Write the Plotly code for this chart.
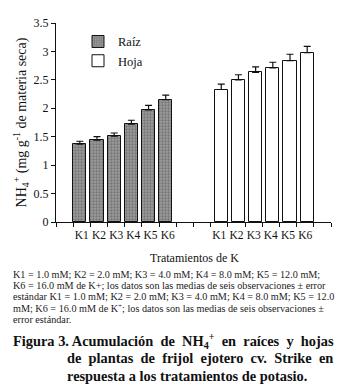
import plotly.graph_objects as go

# ---- data ----
tratamientos = ["K1", "K2", "K3", "K4", "K5", "K6"]
raiz_vals = [1.37, 1.44, 1.51, 1.72, 1.97, 2.15]
raiz_err = [0.05, 0.06, 0.055, 0.07, 0.08, 0.08]
hoja_vals = [2.33, 2.50, 2.63, 2.71, 2.84, 2.98]
hoja_err = [0.095, 0.09, 0.10, 0.10, 0.11, 0.11]
y_ticks = [0, 0.5, 1, 1.5, 2, 2.5, 3, 3.5]

# category slots on the axis: 1 empty, 6 raiz, 2 empty, 6 hoja, 1 empty
n_slots = 16
raiz_slots = [1 + i for i in range(len(tratamientos))]
hoja_slots = [9 + i for i in range(len(tratamientos))]
raiz_x = [s + 0.5 for s in raiz_slots]
hoja_x = [s + 0.5 for s in hoja_slots]
bw = 0.77

FONT = "Liberation Serif"

fig = go.Figure()
fig.add_trace(go.Bar(
    x=raiz_x, y=raiz_vals, name="Raíz", width=bw, offset=-0.5,
    marker=dict(color="#8e8e8e", line=dict(color="#111", width=1),
                pattern=dict(shape=".", bgcolor="#9c9c9c", fgcolor="#4e4e4e", size=3, solidity=0.45)),
    error_y=dict(type="data", array=raiz_err, arrayminus=[0] * len(raiz_err), symmetric=False,
                 color="#111", thickness=1.2, width=3.5),
))
fig.add_trace(go.Bar(
    x=hoja_x, y=hoja_vals, name="Hoja", width=bw, offset=0.5 - bw,
    marker=dict(color="white", line=dict(color="#111", width=1)),
    error_y=dict(type="data", array=hoja_err, arrayminus=[0] * len(hoja_err), symmetric=False,
                 color="#111", thickness=1.2, width=3.5),
))

W, H = 349, 392
ml, mr, mt, mb = 48, 26, 8, 178
pw, ph = W - ml - mr, H - mt - mb


def px(x, y):
    return (x - ml) / pw, (H - mb - y) / ph


fig.update_layout(
    width=W, height=H,
    margin=dict(l=ml, r=mr, t=mt, b=mb),
    paper_bgcolor="white", plot_bgcolor="white",
    font=dict(family=FONT, size=12, color="#111"),
    showlegend=True,
    legend=dict(x=px(70, 0)[0], y=px(0, 12)[1], xanchor="left", yanchor="top",
                font=dict(family=FONT, size=12.5), bgcolor="rgba(0,0,0,0)",
                itemwidth=30, tracegroupgap=0),
    bargap=0,
    xaxis=dict(range=[0, n_slots], showgrid=False, zeroline=False,
               showline=True, linecolor="#111", linewidth=1,
               tickmode="array", tickvals=raiz_x + hoja_x, ticktext=tratamientos + tratamientos,
               ticks="outside", ticklen=2, tickcolor="rgba(0,0,0,0)", tickangle=0,
               tickfont=dict(family=FONT, size=11.5),
               minor=dict(tickmode="linear", tick0=0, dtick=1, ticks="outside", ticklen=4,
                          tickcolor="#111", showgrid=False),
               fixedrange=True),
    yaxis=dict(range=[0, 3.5], showgrid=False, zeroline=False,
               showline=True, linecolor="#111", linewidth=1,
               tickmode="array", tickvals=y_ticks,
               ticktext=[("%g" % v) for v in y_ticks],
               ticks="outside", ticklen=4, tickcolor="#111",
               tickfont=dict(family=FONT, size=12),
               title=dict(text="NH<sub>4</sub><sup>+</sup> (mg g<sup>-1</sup> de materia seca)",
                          font=dict(family=FONT, size=14), standoff=3),
               fixedrange=True),
)

annotations = []
xt, yt = px(186, 251)
annotations.append(dict(text="Tratamientos de K", x=xt, y=yt, xref="paper", yref="paper",
                        xanchor="center", yanchor="middle", showarrow=False,
                        font=dict(family=FONT, size=12)))

caption = [
    "K1 = 1.0 mM; K2 = 2.0 mM; K3 = 4.0 mM; K4 = 8.0 mM; K5 = 12.0 mM;",
    "K6 = 16.0 mM de K+; los datos son las medias de seis observaciones ± error",
    "estándar K1 = 1.0 mM; K2 = 2.0 mM; K3 = 4.0 mM; K4 = 8.0 mM; K5 = 12.0",
    "mM; K6 = 16.0 mM de K<sup>+</sup>; los datos son las medias de seis observaciones ±",
    "error estándar.",
]
for i, line in enumerate(caption):
    x0, y0 = px(3, 268 + i * 11.7)
    annotations.append(dict(text=line, x=x0, y=y0, xref="paper", yref="paper",
                            xanchor="left", yanchor="middle", showarrow=False,
                            font=dict(family=FONT, size=10.2, color="#222")))

title_lines = [
    (3, "Figura 3. Acumulación  de  NH<sub>4</sub><sup>+</sup>  en  raíces  y  hojas"),
    (57, "de  plantas  de  frijol  ejotero  cv.  Strike  en"),
    (57, "respuesta a los tratamientos de potasio."),
]
for i, (xpx, line) in enumerate(title_lines):
    x0, y0 = px(xpx, 337 + i * 18)
    annotations.append(dict(text="<b>" + line + "</b>", x=x0, y=y0, xref="paper", yref="paper",
                            xanchor="left", yanchor="middle", showarrow=False,
                            font=dict(family=FONT, size=14.4, color="#111")))

fig.update_layout(annotations=annotations)
fig.write_html("out.html")
